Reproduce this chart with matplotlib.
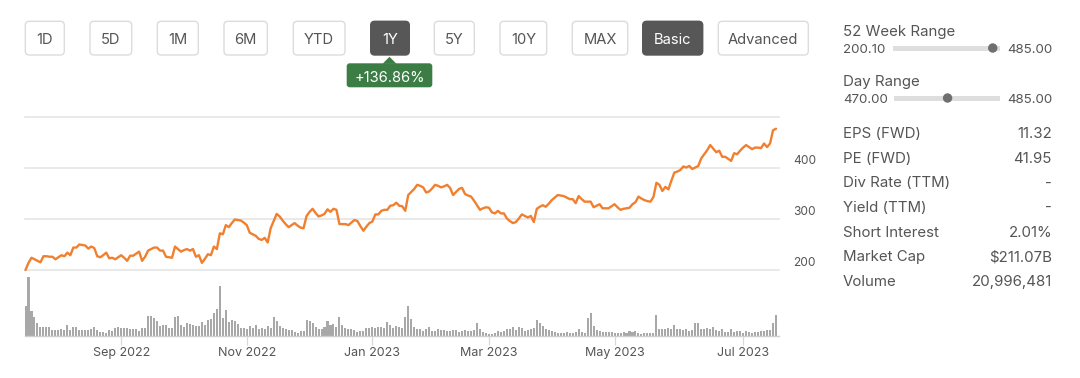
import matplotlib
matplotlib.use('Agg')
import matplotlib.pyplot as plt
import numpy as np
import pandas as pd
from matplotlib.patches import FancyBboxPatch, Polygon, Circle, Rectangle

plt.rcParams['font.family'] = ['Inter', 'DejaVu Sans']

# ---------------- data ----------------
start_date = '2022-07-19'
end_date = '2023-07-19'
market_holidays = ['2022-09-05', '2022-11-24', '2022-12-26', '2023-01-02', '2023-01-16',
                   '2023-02-20', '2023-04-07', '2023-05-29', '2023-06-19', '2023-07-04']

close_prices = [
    200, 214, 224, 221, 218, 215, 227, 227, 226, 226, 221, 225, 229, 227, 234, 229, 244, 244, 250, 249,
    248, 242, 246, 243, 227, 225, 229, 234, 223, 224, 221, 225, 229, 224, 218, 228, 228, 232, 236, 218,
    226, 238, 241, 244, 244, 238, 238, 226, 225, 224, 246, 241, 236, 239, 241, 238, 241, 226, 229, 214,
    222, 231, 229, 246, 241, 272, 270, 288, 284, 292, 299, 298, 297, 293, 288, 273, 270, 267, 261, 259,
    263, 254, 282, 296, 310, 305, 297, 290, 284, 288, 292, 287, 283, 282, 306, 314, 320, 312, 305, 307,
    310, 319, 314, 320, 318, 290, 290, 290, 288, 293, 298, 296, 286, 277, 285, 292, 295, 309, 309, 316,
    318, 318, 326, 327, 332, 326, 325, 316, 347, 353, 359, 367, 365, 362, 352, 354, 360, 367, 365, 362,
    364, 367, 361, 347, 353, 359, 361, 349, 346, 344, 336, 327, 318, 321, 323, 322, 313, 311, 316, 311,
    311, 301, 296, 292, 294, 301, 309, 306, 303, 306, 294, 320, 324, 327, 324, 330, 337, 342, 347, 346,
    345, 342, 339, 339, 331, 345, 339, 334, 334, 334, 323, 326, 329, 321, 321, 321, 325, 329, 323, 318,
    320, 321, 322, 329, 333, 344, 340, 337, 335, 334, 343, 371, 367, 355, 363, 358, 375, 391, 393, 396,
    403, 401, 404, 398, 401, 404, 419, 427, 435, 445, 438, 431, 434, 422, 422, 418, 414, 429, 427, 434,
    440, 445, 441, 437, 440, 440, 439, 448, 441, 448, 474, 477,
]

volume_millions = [
    30, 59, 25, 19, 13, 9, 9, 9, 9, 6, 6, 6, 7, 6, 11, 6, 9, 9, 6, 6,
    6, 6, 7, 9, 6, 4, 4, 3, 6, 5, 8, 9, 8, 8, 8, 7, 7, 7, 5, 8,
    8, 20, 20, 18, 15, 10, 11, 11, 8, 8, 19, 20, 11, 9, 13, 12, 11, 10, 10, 14,
    11, 16, 17, 23, 27, 50, 18, 26, 14, 16, 15, 12, 8, 8, 7, 10, 8, 11, 7, 8,
    7, 10, 8, 19, 15, 10, 8, 7, 6, 6, 4, 3, 5, 5, 16, 15, 13, 9, 7, 7,
    9, 15, 11, 12, 9, 19, 11, 8, 7, 7, 6, 4, 5, 5, 8, 8, 9, 8, 9, 9,
    8, 14, 11, 8, 10, 9, 8, 19, 30, 17, 9, 7, 7, 5, 7, 9, 5, 5, 7, 6,
    6, 5, 5, 6, 6, 4, 5, 6, 5, 5, 6, 13, 7, 4, 3, 2, 2, 3, 5, 4,
    5, 7, 7, 9, 6, 9, 8, 5, 6, 7, 8, 16, 13, 10, 7, 6, 5, 4, 3, 3,
    3, 4, 3, 3, 4, 7, 4, 3, 18, 23, 10, 6, 5, 4, 4, 4, 4, 3, 3, 3,
    4, 3, 5, 4, 5, 3, 2, 3, 3, 3, 3, 21, 7, 7, 7, 8, 7, 11, 7, 7,
    6, 7, 5, 6, 13, 13, 7, 7, 8, 7, 9, 6, 5, 7, 4, 4, 7, 4, 5, 5,
    3, 5, 4, 3, 4, 4, 5, 5, 6, 6, 13, 21,
]

tick_months = ['2022-09', '2022-11', '2023-01', '2023-03', '2023-05', '2023-07']
tick_labels = ['Sep 2022', 'Nov 2022', 'Jan 2023', 'Mar 2023', 'May 2023', 'Jul 2023']
price_gridlines = [200, 300, 400, 500]
price_labels = ['200', '300', '400', '']

range_buttons = ['1D', '5D', '1M', '6M', 'YTD', '1Y', '5Y', '10Y', 'MAX']
selected_range = '1Y'
mode_buttons = ['Basic', 'Advanced']
selected_mode = 'Basic'
change_text = '+136.86%'

week52_low, week52_high = 200.10, 485.00
day_low, day_high = 470.00, 485.00
current_price = 477.59

stat_labels = ['EPS (FWD)', 'PE (FWD)', 'Div Rate (TTM)', 'Yield (TTM)', 'Short Interest', 'Market Cap', 'Volume']
stat_values = ['11.32', '41.95', '-', '-', '2.01%', '$211.07B', '20,996,481']

# ---------------- derived ----------------
days = pd.bdate_range(start_date, end_date)
days = days[~days.isin(pd.to_datetime(market_holidays))]
idx = np.arange(len(days))
tick_pos = [int(np.argmax(days.strftime('%Y-%m') == m)) for m in tick_months]

W, H = 1080, 378
fig = plt.figure(figsize=(W / 100, H / 100), dpi=100)
fig.patch.set_facecolor('white')

TXT = '#555555'
ORANGE = '#f0802f'

def fx(px):
    return px / W

def fy(py):
    return 1 - py / H

# ---------------- price axes ----------------
L, R = 25, 779
axp = fig.add_axes([fx(L), fy(270), fx(R - L), (270 - 117) / H])
axp.set_xlim(-0.17, 252.0)
axp.set_ylim(200, 500)
for g, lab in zip(price_gridlines, price_labels):
    axp.axhline(g, color='#e3e3e3', lw=1.1, zorder=0, clip_on=False)
    if lab:
        axp.annotate(lab, xy=(1, g), xycoords=('axes fraction', 'data'),
                     xytext=(14, 7), textcoords='offset pixels',
                     ha='left', va='center', fontsize=8.6, color=TXT)
axp.plot(idx, close_prices, color=ORANGE, lw=1.7, solid_joinstyle='round',
         solid_capstyle='round', clip_on=False, zorder=3)
axp.axis('off')

# ---------------- volume axes ----------------
axv = fig.add_axes([fx(L), fy(336), fx(R - L), (336 - 277) / H])
axv.bar(idx, volume_millions, width=0.68, color='#a8a8a8', linewidth=0)
axv.set_xlim(-0.17, 252.0)
axv.set_ylim(0, max(volume_millions))
axv.axhline(0, color='#cfcfcf', lw=1.0, clip_on=False)
for s in axv.spines.values():
    s.set_visible(False)
axv.set_yticks([])
axv.set_xticks(tick_pos)
axv.set_xticklabels(tick_labels)
axv.tick_params(axis='x', length=6.5, width=0.9, color='#d9d9d9', pad=1.5,
                labelsize=9, labelcolor=TXT)
axv.set_facecolor('none')

# ---------------- overlay (buttons, stats) ----------------
ov = fig.add_axes([0, 0, 1, 1], zorder=-1)
ov.set_xlim(0, W)
ov.set_ylim(H, 0)
ov.axis('off')

range_extents = [(25.3, 64.3), (90, 131.7), (157.3, 198.3), (224, 267.3), (293.3, 345),
                 (370.7, 409.3), (434.3, 474.3), (500, 546.7), (572.3, 627.7)]
mode_extents = [(642.7, 702.7), (718.3, 808.3)]
by0, by1 = 21.3, 55

def button(x0, x1, label, selected):
    fc = '#575757' if selected else 'white'
    ec = '#575757' if selected else '#dcdcdc'
    p = FancyBboxPatch((x0, by0), x1 - x0, by1 - by0,
                       boxstyle='round,pad=0,rounding_size=4', fc=fc, ec=ec, lw=1.0)
    ov.add_patch(p)
    ov.text((x0 + x1) / 2, 44.3, label, ha='center', va='baseline', fontsize=10.6,
            color='white' if selected else TXT)

for (x0, x1), lab in zip(range_extents, range_buttons):
    button(x0, x1, lab, lab == selected_range)
for (x0, x1), lab in zip(mode_extents, mode_buttons):
    button(x0, x1, lab, lab == selected_mode)

# change tooltip
GREEN = '#3c7d46'
tx0, tx1, ty0, ty1 = 346.7, 432.3, 63.3, 87.3
ov.add_patch(FancyBboxPatch((tx0, ty0), tx1 - tx0, ty1 - ty0,
                            boxstyle='round,pad=0,rounding_size=3', fc=GREEN, ec='none'))
ov.add_patch(Polygon([(382.5, ty0 + 0.5), (389.5, 56.8), (396.5, ty0 + 0.5)], closed=True,
                     fc=GREEN, ec='none'))
ov.text((tx0 + tx1) / 2, 81.7, change_text, ha='center', va='baseline', fontsize=10.6, color='white')

# range sliders
lx, rx = 843, 1052

def slider(title, title_base, lo, hi, value_base, t0, t1):
    ov.text(lx, title_base, title, ha='left', va='baseline', fontsize=10.8, color=TXT)
    ov.text(lx, value_base, f'{lo:.2f}', ha='left', va='baseline', fontsize=9.6, color=TXT)
    ov.text(rx, value_base, f'{hi:.2f}', ha='right', va='baseline', fontsize=9.6, color=TXT)
    yc = value_base - 5.3
    ov.add_patch(Rectangle((t0, yc - 2.5), t1 - t0, 5, fc='#dedede', ec='none'))
    r = 4.7
    frac = (current_price - lo) / (hi - lo)
    kx = t0 + r + frac * (t1 - t0 - 2 * r)
    ov.add_patch(Circle((kx, yc), r, fc='#6f6f6f', ec='none'))

slider('52 Week Range', 36.0, week52_low, week52_high, 53.3, 892.7, 1000)
slider('Day Range', 86.0, day_low, day_high, 103.3, 894, 1000)

stat_base0, stat_step = 138.3, 24.57
for i, (lab, val) in enumerate(zip(stat_labels, stat_values)):
    yb = stat_base0 + i * stat_step
    ov.text(lx, yb, lab, ha='left', va='baseline', fontsize=10.8, color=TXT)
    ov.text(rx, yb, val, ha='right', va='baseline', fontsize=10.8, color=TXT)

fig.savefig('out.png', dpi=100, facecolor='white')
